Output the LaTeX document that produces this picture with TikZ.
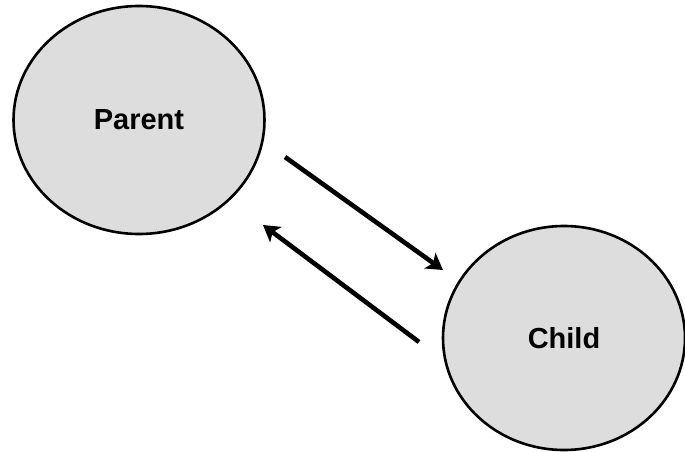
\documentclass[tikz,border=0pt]{standalone}
\usepackage{fontspec}
\setmainfont{Liberation Sans}
\usepackage{tikz}
\usetikzlibrary{
  arrows.meta,
  shapes.geometric
}
\definecolor{NodeGray}{RGB}{221,221,221}
\tikzset{
  procnode/.style={ellipse,draw=black,fill=NodeGray,line width=2.6pt,inner sep=0pt,font=\fontsize{29}{32}\selectfont\bfseries},
  flowarrow/.style={-{Stealth[length=16pt,width=19pt,inset=4pt]},line width=4.6pt,draw=black}
}
\begin{document}
\begin{tikzpicture}[x=1pt,y=-1pt]
\useasboundingbox (0,0) rectangle (685,452);
\node[procnode,minimum width=251pt,minimum height=228pt] (parent) at (139,120) {Parent};
\node[procnode,minimum width=242pt,minimum height=224pt] (child) at (564,338) {Child};

\coordinate (down1) at (285,157);
\coordinate (down2) at (443,270);
\coordinate (up1) at (419,342);
\coordinate (up2) at (263,225);

\draw[flowarrow] (down1) -- (down2);
\draw[flowarrow] (up1) -- (up2);
\end{tikzpicture}
\end{document}
